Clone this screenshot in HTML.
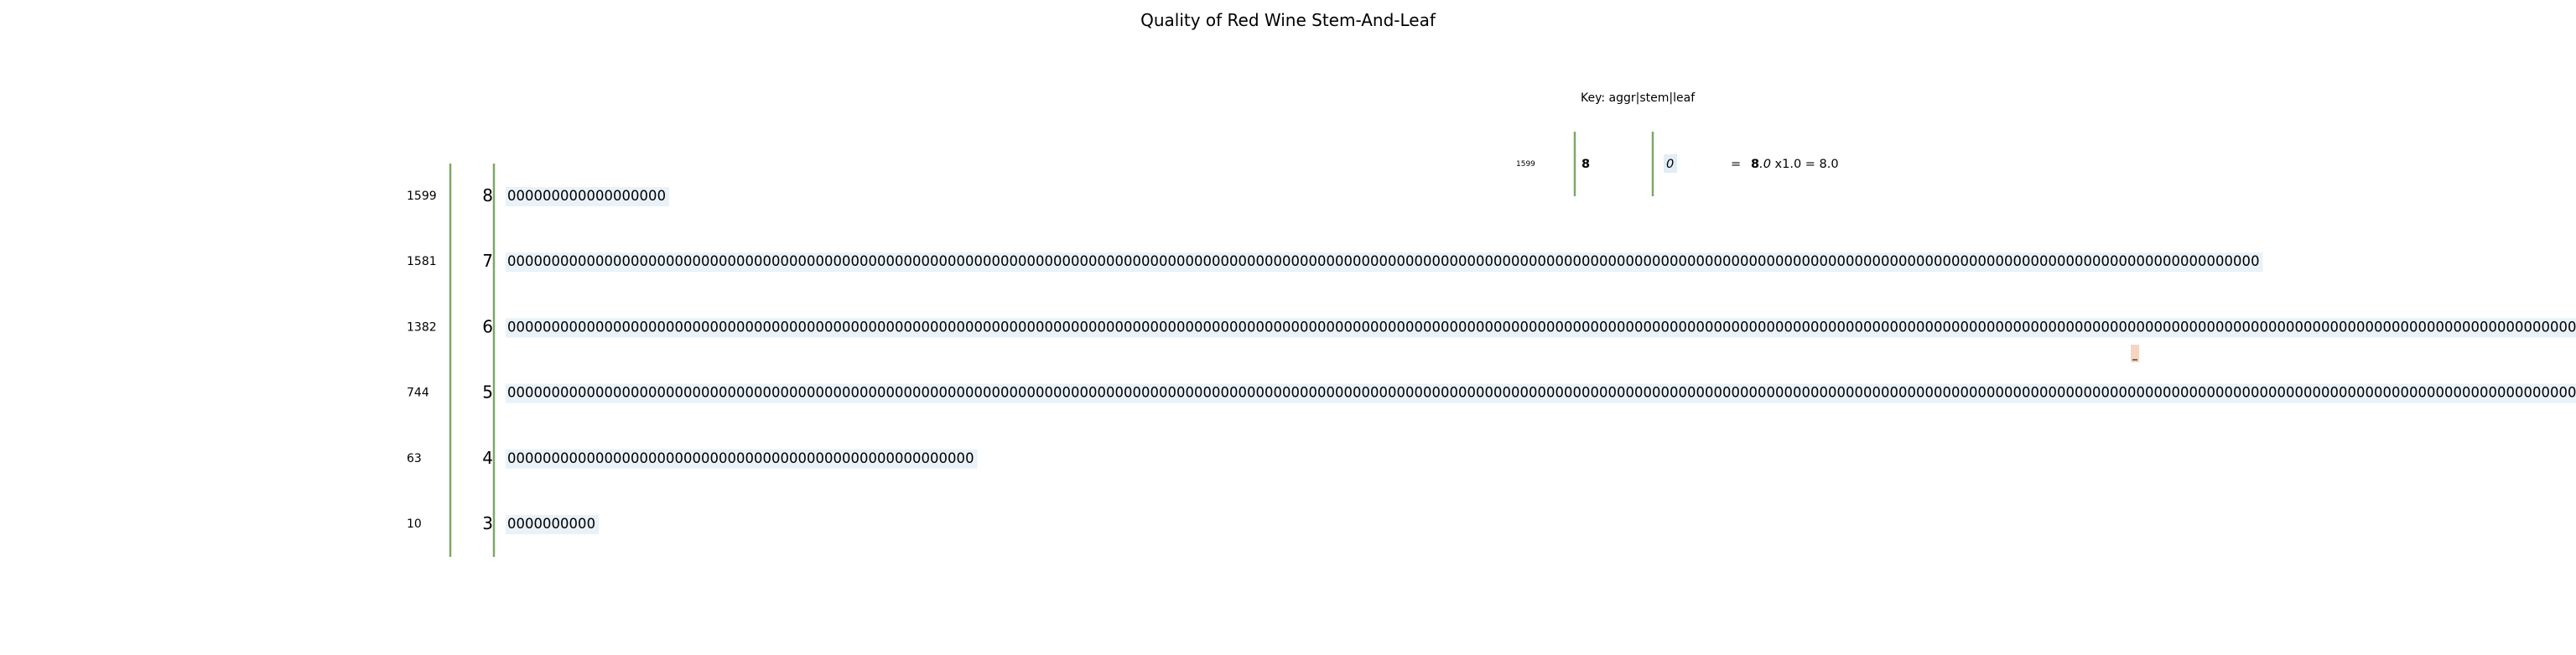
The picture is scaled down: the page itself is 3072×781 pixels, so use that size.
<!DOCTYPE html>
<html><head><meta charset="utf-8"><style>
html,body{margin:0;padding:0;background:#fff;width:3072px;height:781px;overflow:hidden}
text{font-family:"DejaVu Sans","Liberation Sans",sans-serif}
</style></head><body>
<svg id="chart" width="3072" height="781" xmlns="http://www.w3.org/2000/svg">
<text x="1536" y="31" font-size="20" text-anchor="middle" fill="#000">Quality of Red Wine Stem-And-Leaf</text>
<g>
<text x="1885" y="121" font-size="14">Key: aggr|stem|leaf</text>
<text x="1808" y="198" font-size="9">1599</text>
<line x1="1878" y1="157" x2="1878" y2="234" stroke="#80a66b" stroke-width="2.5"/>
<text x="1886" y="200" font-size="14.5" font-weight="bold">8</text>
<line x1="1971" y1="157" x2="1971" y2="234" stroke="#80a66b" stroke-width="2.5"/>
<rect x="1984" y="184" width="16" height="22" fill="#e3edf6"/>
<text x="1987" y="200" font-size="14.5" font-style="italic">0</text>
<text x="2064" y="200" font-size="14.5">=</text>
<text x="2088" y="200" font-size="14.5"><tspan font-weight="bold">8</tspan><tspan font-style="italic">.0</tspan> x1.0 = 8.0</text>
</g>
<rect x="2541" y="411" width="10" height="21" fill="#f5d5bf"/>
<line x1="2543" y1="429" x2="2549" y2="429" stroke="#000" stroke-width="1"/>
<line x1="537" y1="195" x2="537" y2="664" stroke="#80a66b" stroke-width="2.5"/>
<line x1="589" y1="195" x2="589" y2="664" stroke="#80a66b" stroke-width="2.5"/>
<g id="rows"></g>
</svg>
<script>
const stems = [8, 7, 6, 5, 4, 3];
const aggr = [1599, 1581, 1382, 744, 63, 10];
const leafCounts = [18, 199, 638, 681, 53, 10];
const NS = "http://www.w3.org/2000/svg";
const g = document.getElementById('rows');
const rowY = i => 233 + i * 78.2;
const charW = 10.5;
function mk(tag, attrs){const e=document.createElementNS(NS,tag);for(const k in attrs)e.setAttribute(k,attrs[k]);return e;}
stems.forEach((s, i) => {
  const y = rowY(i);
  const a = mk('text', {x: 485, y: y + 5, 'font-size': 14});
  
  
  a.textContent = aggr[i];
  g.appendChild(a);
  const st = mk('text', {x: 588, y: y + 7, 'font-size': 20, 'text-anchor': 'end'});
  
  
  st.textContent = s;
  g.appendChild(st);
  const n = leafCounts[i];
  const bg = mk('rect', {x: 603, y: y - 10, width: n * charW + 6, height: 23, fill: '#e9f2f8'});
  
  
  g.appendChild(bg);
  const lf = mk('text', {x: 605, y: y + 6, 'font-size': 16.4, textLength: n * charW, lengthAdjust: 'spacing'});
  
  
  lf.textContent = '0'.repeat(n);
  g.appendChild(lf);
});
</script>
</body></html>
